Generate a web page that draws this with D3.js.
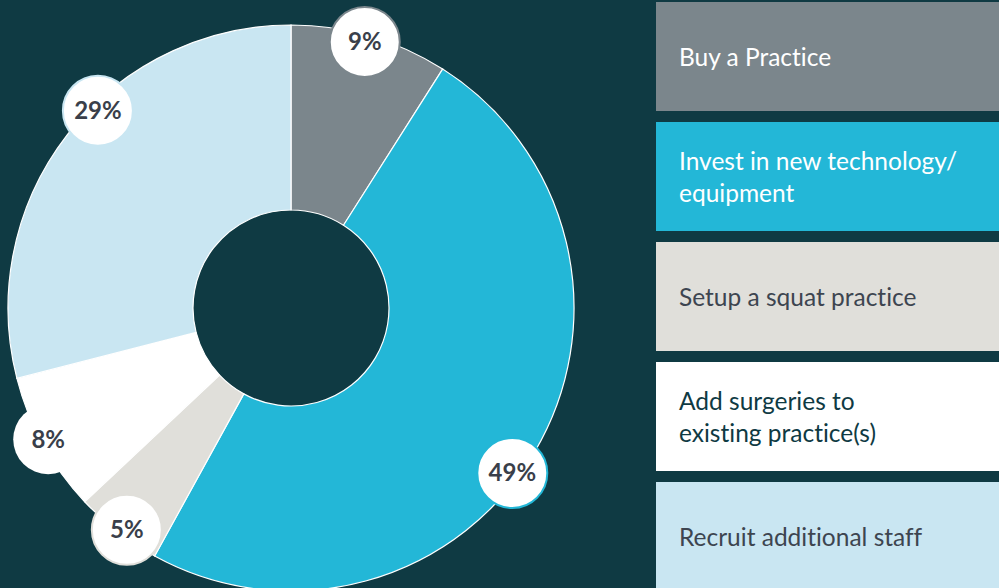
<!DOCTYPE html>
<html>
<head>
<meta charset="utf-8">
<script src="https://cdn.jsdelivr.net/npm/d3@7"></script>
<style>
  html, body { margin: 0; padding: 0; background: #0f3a43; }
  svg { display: block; }
  text { font-variant-ligatures: none; font-feature-settings: "liga" 0; }
</style>
</head>
<body>
<svg id="chart" width="999" height="588"></svg>
<script>
// Survey answers: what respondents plan to do next
const categories = [
  "Buy a Practice",
  "Invest in new technology/ equipment",
  "Setup a squat practice",
  "Add surgeries to existing practice(s)",
  "Recruit additional staff"
];
const values = [9, 49, 5, 8, 29];
const legendLines = [
  ["Buy a Practice"],
  ["Invest in new technology/", "equipment"],
  ["Setup a squat practice"],
  ["Add surgeries to", "existing practice(s)"],
  ["Recruit additional staff"]
];

const sliceColors = ["#7b868c", "#23b7d7", "#e0dfda", "#ffffff", "#c9e6f2"];
const legendText  = ["#ffffff", "#ffffff", "#3d4550", "#0f3a43", "#3d4550"];
// small angular nudges (degrees) so the badges sit clear of the slice seams
const badgeNudge  = [-0.7, 6.1, -1.3, 0.4, 7.8];

const svg = d3.select("#chart");
const cx = 291, cy = 308, outerR = 283, innerR = 98, badgeR = 276;

const color = d3.scaleOrdinal().domain(categories).range(sliceColors);

const pie = d3.pie().value(d => d.value).sort(null);
const data = categories.map((c, i) => ({ name: c, value: values[i], i }));
const arcs = pie(data);

const arc = d3.arc().innerRadius(innerR).outerRadius(outerR);

const g = svg.append("g").attr("transform", `translate(${cx},${cy})`);

g.selectAll("path.slice")
  .data(arcs)
  .join("path")
  .attr("class", "slice")
  .attr("d", arc)
  .attr("fill", d => color(d.data.name))
  .attr("stroke", "#ffffff")
  .attr("stroke-width", 1.2);

// value badges
const badge = g.selectAll("g.badge")
  .data(arcs)
  .join("g")
  .attr("class", "badge")
  .attr("transform", d => {
    const a = (d.startAngle + d.endAngle) / 2 + badgeNudge[d.data.i] * Math.PI / 180;
    return `translate(${badgeR * Math.sin(a)},${-badgeR * Math.cos(a)})`;
  });

badge.append("circle")
  .attr("r", 35)
  .attr("fill", "#ffffff")
  .attr("stroke", d => d.data.i === 3 ? "none" : color(d.data.name))
  .attr("stroke-width", 2);

badge.append("text")
  .attr("text-anchor", "middle")
  .attr("dy", "0.35em")
  .attr("font-family", "Lato, 'Open Sans', sans-serif")
  .attr("font-weight", 700)
  .attr("font-size", 24)
  .attr("fill", "#3a3f4a")
  .text(d => d.data.value + "%");

// legend panels: 109px tall, 120px pitch
const band = d3.scaleBand().domain(categories).range([2, 591]).paddingInner(11 / 120).paddingOuter(0);
const legend = svg.selectAll("g.legend")
  .data(data)
  .join("g")
  .attr("class", "legend")
  .attr("transform", d => `translate(656,${band(d.name)})`);

legend.append("rect")
  .attr("width", 360)
  .attr("height", band.bandwidth())
  .attr("fill", d => color(d.name));

legend.append("text")
  .attr("font-family", "Lato, 'Open Sans', sans-serif")
  .attr("font-size", 24.5)
  .attr("fill", d => legendText[d.i])
  .each(function (d) {
    const lines = legendLines[d.i];
    const lh = 32;
    const base = band.bandwidth() / 2 + 9 - (lines.length - 1) * lh / 2;
    d3.select(this).selectAll("tspan")
      .data(lines)
      .join("tspan")
      .attr("x", 23)
      .attr("y", (t, k) => base + k * lh)
      .text(t => t);
  });
</script>
</body>
</html>
